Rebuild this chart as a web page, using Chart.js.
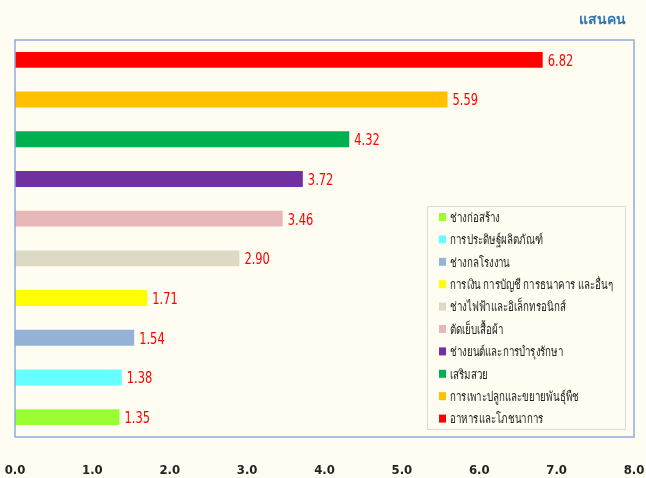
<!DOCTYPE html>
<html>
<head>
<meta charset="utf-8">
<script src="https://cdn.jsdelivr.net/npm/chart.js@4/dist/chart.umd.min.js"></script>
<style>
  html, body { margin: 0; padding: 0; background: #fffdf2; }
  #wrap { width: 646px; height: 478px; }
</style>
</head>
<body>
<div id="wrap"><canvas id="myChart" width="646" height="478"></canvas></div>
<script>
// categories top to bottom as drawn
const categories = [
    'อาหารและโภชนาการ',
    'การเพาะปลูกและขยายพันธุ์พืช',
    'เสริมสวย',
    'ช่างยนต์และการบำรุงรักษา',
    'ตัดเย็บเสื้อผ้า',
    'ช่างไฟฟ้าและอิเล็กทรอนิกส์',
    'การเงิน การบัญชี การธนาคาร และอื่นๆ',
    'ช่างกลโรงงาน',
    'การประดิษฐ์ผลิตภัณฑ์',
    'ช่างก่อสร้าง'
];
const values = [6.82, 5.59, 4.32, 3.72, 3.46, 2.90, 1.71, 1.54, 1.38, 1.35];
const colors = ['#ff0000', '#ffc000', '#00b050', '#7030a0', '#e6b9b8',
                '#ddd9c4', '#ffff00', '#95b3d7', '#66ffff', '#99ff33'];
const xTicks = [0, 1, 2, 3, 4, 5, 6, 7, 8];
const unitLabel = 'แสนคน';

const numFont = "'DejaVu Sans Condensed', 'DejaVu Sans', sans-serif";
const thaiFont = "Tahoma, 'Noto Sans', 'DejaVu Sans', sans-serif";

const extras = {
    id: 'extras',
    beforeDraw(chart) {
        const c = chart.ctx;
        c.save();
        c.fillStyle = '#fffdf2';
        c.fillRect(0, 0, chart.width, chart.height);
        c.restore();
    },
    afterDraw(chart) {
        const c = chart.ctx;
        const a = chart.chartArea;
        c.save();
        // plot border
        c.strokeStyle = '#8eaadb';
        c.lineWidth = 1.5;
        c.strokeRect(a.left, a.top, a.right - a.left, a.bottom - a.top);

        // value labels (squeezed a bit, the original font is narrow)
        const meta = chart.getDatasetMeta(0);
        c.textBaseline = 'middle';
        c.textAlign = 'left';
        meta.data.forEach((bar, i) => {
            c.save();
            c.translate(bar.x + 5, bar.y + 2);
            c.scale(0.85, 1);
            c.fillStyle = '#ff0000';
            c.font = '15px ' + numFont;
            c.fillText(values[i].toFixed(2), 0, 0);
            c.restore();
        });

        // unit
        c.fillStyle = '#2e75b6';
        c.font = 'bold 14px ' + thaiFont;
        c.textAlign = 'right';
        c.fillText(unitLabel, 626, 20);

        // legend
        const lx = 427, ly = 206, lw = 198, lh = 223;
        c.fillStyle = '#fffdf2';
        c.fillRect(lx, ly, lw, lh);
        c.strokeStyle = '#d9d9d9';
        c.lineWidth = 1;
        c.strokeRect(lx + 0.5, ly + 0.5, lw, lh);
        c.textAlign = 'left';
        for (let k = 0; k < categories.length; k++) {
            const i = categories.length - 1 - k;
            const y = 217 + k * 22.4;
            c.fillStyle = colors[i];
            c.fillRect(439, y - 4, 7, 8);
            c.save();
            c.translate(450, y + 1);
            c.scale(0.75, 1);
            c.font = '13px ' + thaiFont;
            c.fillStyle = '#222';
            c.fillText(categories[i], 0, 0);
            c.restore();
        }
        c.restore();
    }
};

new Chart(document.getElementById('myChart'), {
    type: 'bar',
    data: {
        labels: categories,
        datasets: [{
            data: values,
            backgroundColor: colors,
            categoryPercentage: 1,
            barPercentage: 0.4
        }]
    },
    options: {
        indexAxis: 'y',
        responsive: false,
        animation: false,
        layout: { padding: { left: 15, right: 12, top: 40, bottom: 0 } },
        plugins: { legend: { display: false }, tooltip: { enabled: false } },
        scales: {
            y: { display: false },
            x: {
                min: 0, max: 8,
                afterBuildTicks: (s) => { s.ticks = xTicks.map(v => ({ value: v })); },
                afterFit: (s) => { s.paddingLeft = 0; s.paddingRight = 0; s.height = 41; },
                grid: { display: false },
                border: { display: false },
                ticks: {
                    padding: 18,
                    color: '#222',
                    maxRotation: 0,
                    autoSkip: false,
                    font: { family: numFont, size: 13, weight: 'bold' },
                    callback: (v) => Number(v).toFixed(1)
                }
            }
        }
    },
    plugins: [extras]
});
</script>
</body>
</html>
